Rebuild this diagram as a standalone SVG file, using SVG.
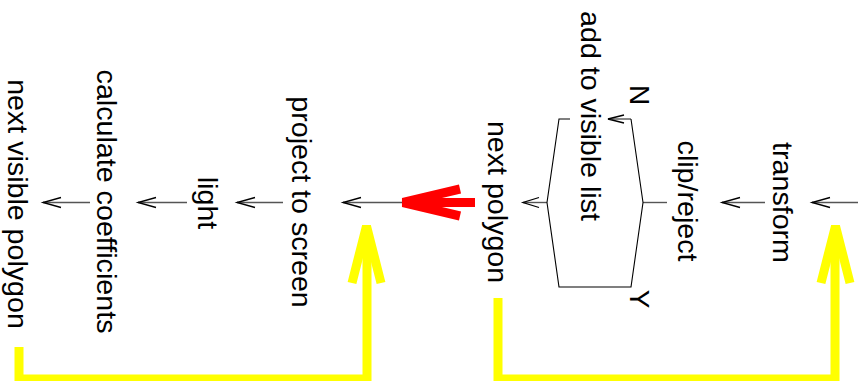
<svg xmlns="http://www.w3.org/2000/svg" width="867" height="381" viewBox="0 0 867 381">
<defs>
<style>
text{font-family:"Liberation Sans",Arial,sans-serif;font-size:28px;fill:#000;text-anchor:middle}
.ln{stroke:#555;stroke-width:1.4;fill:none}
.hd{stroke:#000;stroke-width:1.3;fill:none}
.hex{stroke:#000;stroke-width:1.1;fill:none}
.yl{stroke:#ffff00;stroke-width:9;fill:none;stroke-linejoin:miter}
.rd{stroke:#ff0000;stroke-width:9;fill:none;stroke-linejoin:miter}
</style>
</defs>
<rect width="867" height="381" fill="#fff"/>
<g id="connectors">
<path class="ln" d="M858,202.5H812"/><path class="hd" d="M830,197.5L812,202.5L830,207.5"/>
<path class="ln" d="M765,202.5H722"/><path class="hd" d="M740,197.5L722,202.5L740,207.5"/>
<path class="ln" d="M667,202.5H643"/>
<path class="ln" d="M631,119H608"/><path class="hd" d="M624,115L608,119L624,123"/>
<path class="ln" d="M547,202.5H523"/><path class="hd" d="M539,197.5L523,202.5L539,207.5"/>
<path class="ln" d="M475,202.5H343"/><path class="hd" d="M361,197.5L343,202.5L361,207.5"/>
<path class="ln" d="M283,202.5H237"/><path class="hd" d="M255,197.5L237,202.5L255,207.5"/>
<path class="ln" d="M187,202.5H138"/><path class="hd" d="M156,197.5L138,202.5L156,207.5"/>
<path class="ln" d="M90,202.5H43"/><path class="hd" d="M61,197.5L43,202.5L61,207.5"/>
<path class="rd" d="M475,202.5H404"/><path class="rd" d="M460,189L403,202.5L460,216"/>
<path class="yl" d="M498,298V379H835V230"/><path class="yl" d="M821,283L835.5,226L850,283"/>
<path class="yl" d="M19,347V379H367V230"/><path class="yl" d="M352,283L366.5,226L381,283"/>
</g>
<g id="decision">
<path class="hex" d="M570,119H559L547,202.5L559,287H631L643,202.5L631,119"/>
<text transform="translate(630,95) rotate(90)">N</text>
<text transform="translate(630,299) rotate(90)">Y</text>
</g>
<g id="transform"><text transform="translate(773,202.5) rotate(90)" textLength="120.8" lengthAdjust="spacingAndGlyphs">transform</text></g>
<g id="clip"><text transform="translate(678,201) rotate(90)" textLength="120.8" lengthAdjust="spacingAndGlyphs">clip/reject</text></g>
<g id="add"><text transform="translate(581,116) rotate(90)" textLength="209.8" lengthAdjust="spacingAndGlyphs">add to visible list</text></g>
<g id="next-polygon"><text transform="translate(488,202) rotate(90)" textLength="162.2" lengthAdjust="spacingAndGlyphs">next polygon</text></g>
<g id="project"><text transform="translate(292,202) rotate(90)" textLength="211.4" lengthAdjust="spacingAndGlyphs">project to screen</text></g>
<g id="light"><text transform="translate(198,203) rotate(90)" textLength="52.5" lengthAdjust="spacingAndGlyphs">light</text></g>
<g id="calc"><text transform="translate(97,201.5) rotate(90)" textLength="263.9" lengthAdjust="spacingAndGlyphs">calculate coefficients</text></g>
<g id="next-visible"><text transform="translate(8,204) rotate(90)" textLength="249.6" lengthAdjust="spacingAndGlyphs">next visible polygon</text></g>
</svg>
